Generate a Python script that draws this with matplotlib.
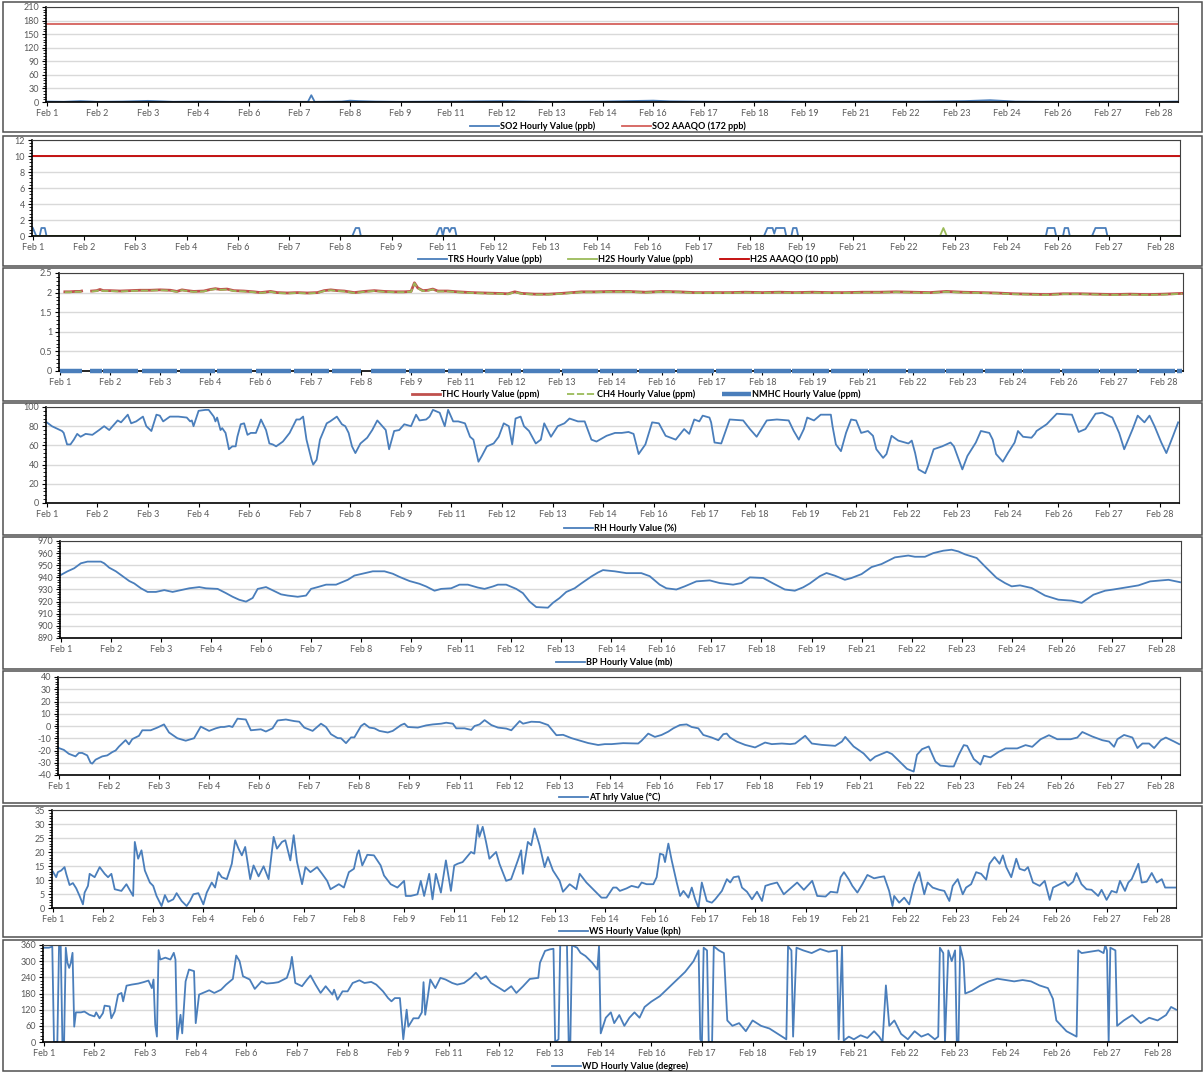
import numpy as np
import matplotlib
matplotlib.use('Agg')
import matplotlib.pyplot as plt
from matplotlib.patches import Rectangle
from matplotlib.ticker import MultipleLocator, AutoMinorLocator, FuncFormatter

plt.rcParams['font.family'] = ['Lato', 'DejaVu Sans']

W, H = 1203, 1072

tick_labels = ['Feb 1', 'Feb 2', 'Feb 3', 'Feb 4', 'Feb 6', 'Feb 7', 'Feb 8', 'Feb 9',
               'Feb 11', 'Feb 12', 'Feb 13', 'Feb 14', 'Feb 16', 'Feb 17', 'Feb 18',
               'Feb 19', 'Feb 21', 'Feb 22', 'Feb 23', 'Feb 24', 'Feb 26', 'Feb 27', 'Feb 28']
label_every = 30      # hours between category labels
n_hours = 672

# ---- data: (hour, value) readings ----
so2 = [(0, 1), (10, 0.5), (20, 2), (30, 0.5), (45, 1), (60, 2.5), (75, 0.5), (90, 1), (110, 0.5),
       (130, 1), (150, 0.5), (155, 0.5), (157, 15), (159, 0.5), (175, 1), (180, 3), (185, 2),
       (195, 1), (210, 0.5), (240, 1), (270, 2), (300, 0.5), (330, 1), (360, 3), (370, 1.5),
       (400, 0.5), (430, 1), (460, 0.5), (490, 1), (520, 1), (545, 2), (560, 4), (575, 1),
       (600, 0.5), (630, 1), (660, 0.5), (671, 1)]
so2_limit = 172

trs = [(0, 1), (1, 0.5), (2, 0), (4, 0), (5, 1), (7, 1), (8, 0), (187, 0), (189, 1), (191, 1),
       (192, 0), (236, 0), (238, 1), (239, 1), (240, 0), (241, 1), (243, 1), (244, 0.5), (245, 1),
       (247, 1), (248, 0), (428, 0), (430, 1), (433, 1), (434, 0.3), (435, 1), (440, 1), (441, 0),
       (444, 0), (445, 1), (447, 1), (448, 0), (593, 0), (594, 1), (598, 1), (599, 0), (603, 0),
       (604, 1), (606, 1), (607, 0), (620, 0), (622, 1), (628, 1), (629, 0), (671, 0)]
h2s = [(0, 0), (531, 0), (533, 1), (535, 0), (671, 0)]
h2s_limit = 10

thc = [(3, 2.02), (6, 2.02), (9, 2.03), (12, 2.03), (13, 2.04), (16, None), (19, 2.04), (22, 2.05),
       (24, 2.08), (26, 2.05), (30, 2.05), (36, 2.04), (42, 2.05), (48, 2.06), (54, 2.06), (60, 2.07),
       (66, 2.06), (70, 2.03), (73, 2.07), (76, 2.05), (80, 2.03), (86, 2.04), (90, 2.08), (93, 2.10),
       (96, 2.08), (100, 2.09), (104, 2.05), (110, 2.04), (116, 2.02), (120, 2.00), (126, 2.03),
       (130, 2.00), (136, 1.99), (142, 2.00), (148, 1.99), (154, 2.00), (158, 2.05), (162, 2.07),
       (166, 2.05), (170, 2.04), (176, 2.00), (182, 2.03), (188, 2.05), (194, 2.03), (200, 2.02),
       (206, 2.02), (210, 2.03), (212, 2.25), (214, 2.12), (217, 2.05), (220, 2.06), (223, 2.09),
       (226, 2.04), (232, 2.04), (238, 2.02), (246, 2.00), (254, 1.99), (262, 1.98), (268, 1.97),
       (272, 2.02), (276, 1.98), (284, 1.96), (292, 1.96), (300, 1.98), (306, 2.00), (312, 2.02),
       (320, 2.02), (330, 2.03), (340, 2.03), (350, 2.01), (360, 2.03), (370, 2.02), (380, 2.00),
       (390, 2.00), (400, 2.00), (410, 2.01), (420, 2.00), (430, 2.01), (440, 2.00), (450, 2.01),
       (460, 2.00), (470, 2.00), (480, 2.01), (490, 2.01), (500, 2.02), (510, 2.01), (520, 2.00),
       (530, 2.03), (540, 2.01), (550, 2.00), (560, 1.99), (570, 1.97), (580, 1.96), (590, 1.95),
       (600, 1.97), (610, 1.97), (620, 1.96), (630, 1.95), (640, 1.96), (650, 1.95), (660, 1.96),
       (671, 1.98)]
ch4 = [(3, 2.01), (6, 2.01), (9, 2.02), (12, 2.02), (13, 2.03), (16, None), (19, 2.03), (22, 2.04),
       (24, 2.07), (26, 2.04), (30, 2.04), (36, 2.03), (42, 2.04), (48, 2.05), (54, 2.05), (60, 2.06),
       (66, 2.05), (70, 2.02), (73, 2.06), (76, 2.04), (80, 2.02), (86, 2.03), (90, 2.07), (93, 2.09),
       (96, 2.07), (100, 2.08), (104, 2.04), (110, 2.03), (116, 2.01), (120, 1.99), (126, 2.02),
       (130, 1.99), (136, 1.98), (142, 1.99), (148, 1.98), (154, 1.99), (158, 2.04), (162, 2.06),
       (166, 2.04), (170, 2.03), (176, 1.99), (182, 2.02), (188, 2.04), (194, 2.02), (200, 2.01),
       (206, 2.01), (210, 2.02), (212, 2.24), (214, 2.11), (217, 2.04), (220, 2.05), (223, 2.08),
       (226, 2.03), (232, 2.03), (238, 2.01), (246, 1.99), (254, 1.98), (262, 1.97), (268, 1.96),
       (272, 2.01), (276, 1.97), (284, 1.95), (292, 1.95), (300, 1.97), (306, 1.99), (312, 2.01),
       (320, 2.01), (330, 2.02), (340, 2.02), (350, 2.00), (360, 2.02), (370, 2.01), (380, 1.99),
       (390, 1.99), (400, 1.99), (410, 2.00), (420, 1.99), (430, 2.00), (440, 1.99), (450, 2.00),
       (460, 1.99), (470, 1.99), (480, 2.00), (490, 2.00), (500, 2.01), (510, 2.00), (520, 1.99),
       (530, 2.02), (540, 2.00), (550, 1.99), (560, 1.98), (570, 1.96), (580, 1.95), (590, 1.94),
       (600, 1.96), (610, 1.96), (620, 1.95), (630, 1.94), (640, 1.95), (650, 1.94), (660, 1.95),
       (671, 1.97)]
nmhc_value = 0.01
nmhc_gaps = [(13, 18), (25, 26), (47, 49), (70, 72), (93, 94), (115, 117), (138, 140), (161, 163),
             (180, 186), (207, 209), (230, 232), (253, 254), (276, 277), (299, 300), (322, 323),
             (345, 346), (368, 369), (391, 392), (414, 415), (437, 438), (460, 461), (483, 484),
             (506, 507), (529, 530), (552, 553), (575, 576), (598, 599), (621, 622), (644, 645),
             (667, 668)]

rh = [(0, 84), (3, 80), (9, 75), (10, 73), (12, 61), (14, 61), (16, 66), (18, 72), (20, 69), (23, 72),
      (27, 71), (31, 76), (34, 80), (37, 76), (42, 86), (44, 84), (48, 92), (50, 83), (53, 85),
      (57, 90), (59, 80), (62, 75), (65, 92), (67, 91), (69, 85), (73, 90), (78, 90), (83, 89),
      (85, 85), (86, 86), (87, 80), (90, 96), (94, 97), (96, 97), (99, 90), (100, 85), (101, 89),
      (103, 76), (104, 78), (106, 73), (108, 56), (110, 59), (112, 59), (113, 69), (115, 82),
      (117, 83), (119, 71), (121, 73), (124, 73), (126, 82), (127, 87), (130, 76), (132, 62),
      (134, 61), (136, 59), (140, 64), (144, 73), (148, 87), (150, 87), (152, 90), (154, 66),
      (157, 45), (158, 40), (160, 45), (162, 66), (166, 83), (168, 85), (172, 90), (175, 82),
      (177, 80), (179, 73), (181, 59), (183, 52), (186, 62), (190, 68), (193, 76), (196, 86),
      (199, 80), (201, 76), (203, 56), (206, 75), (209, 76), (212, 82), (216, 80), (219, 92),
      (221, 86), (225, 87), (227, 90), (229, 97), (233, 94), (236, 80), (238, 97), (241, 85),
      (244, 85), (248, 83), (251, 69), (253, 66), (256, 43), (258, 49), (261, 59), (265, 62),
      (268, 69), (271, 83), (274, 80), (276, 61), (278, 88), (281, 90), (283, 80), (286, 75),
      (290, 62), (293, 66), (295, 83), (299, 69), (303, 80), (307, 83), (310, 88), (315, 85),
      (319, 85), (323, 66), (326, 64), (332, 70), (337, 73), (341, 73), (345, 74), (348, 72),
      (351, 51), (355, 61), (359, 84), (363, 83), (367, 70), (373, 66), (378, 77), (381, 72),
      (384, 87), (387, 85), (389, 91), (393, 89), (394, 84), (396, 63), (400, 62), (403, 77),
      (405, 87), (413, 86), (417, 77), (421, 69), (427, 86), (433, 87), (440, 86), (443, 75),
      (446, 66), (449, 77), (451, 89), (455, 86), (459, 92), (465, 92), (466, 80), (468, 61),
      (471, 54), (474, 73), (477, 87), (480, 86), (483, 73), (487, 75), (490, 70), (492, 56),
      (496, 47), (498, 51), (501, 70), (505, 65), (511, 62), (513, 65), (515, 52), (517, 35),
      (521, 31), (523, 40), (526, 56), (531, 59), (536, 63), (538, 59), (543, 35), (546, 49),
      (551, 63), (554, 75), (559, 73), (561, 66), (563, 51), (567, 43), (570, 52), (574, 63),
      (576, 75), (579, 69), (584, 68), (586, 72), (587, 75), (593, 82), (599, 93), (608, 92),
      (612, 74), (616, 77), (622, 93), (626, 94), (632, 89), (636, 73), (639, 56), (644, 77),
      (647, 91), (651, 84), (654, 91), (657, 80), (661, 63), (664, 52), (668, 70), (671, 84)]

bp = [(0, 942), (4, 945), (8, 947.5), (12, 951.6), (16, 953), (24, 953), (26, 951.6), (29, 948),
      (33, 945), (37, 941), (41, 937), (44, 935), (48, 931), (52, 928), (57, 928), (62, 929.5),
      (67, 928), (72, 929.5), (77, 931), (83, 932), (87, 931), (94, 930.5), (99, 927), (103, 924),
      (107, 921.5), (111, 920), (115, 923), (118, 930.5), (123, 932), (126, 930), (132, 926),
      (136, 925), (142, 924), (147, 925), (150, 930.5), (154, 932), (159, 934), (165, 934),
      (172, 938), (176, 941.5), (182, 943.4), (187, 945), (194, 945), (199, 943), (203, 940.4),
      (209, 937), (215, 934.7), (219, 932.5), (224, 929), (228, 930.5), (234, 931), (239, 934),
      (244, 934), (250, 931.6), (254, 930.5), (259, 932.5), (262, 934), (267, 934), (273, 930.5),
      (277, 927), (281, 920), (285, 915.5), (292, 915), (295, 919), (299, 923), (303, 928),
      (308, 931), (312, 935), (318, 940.7), (322, 944), (325, 946), (332, 945), (339, 943.5),
      (348, 943.5), (353, 941), (359, 934), (363, 931), (369, 930), (374, 932.6), (381, 936.7),
      (389, 937.5), (395, 935.3), (403, 934), (408, 935.3), (413, 940), (421, 939.5), (427, 935),
      (434, 930), (440, 929), (445, 931.8), (449, 935), (455, 941), (459, 943.6), (464, 941.4),
      (470, 938), (474, 939.5), (480, 942.7), (486, 948.5), (492, 951), (500, 956.5), (508, 958),
      (512, 957), (518, 957), (523, 960), (529, 962), (534, 962.8), (538, 961.4), (542, 959),
      (549, 956), (554, 949), (561, 939.5), (566, 935.3), (570, 932.6), (575, 933.4), (582, 931.2),
      (590, 925), (598, 921.6), (606, 920.8), (612, 919), (619, 925.7), (626, 929), (631, 930),
      (639, 931.8), (646, 933.4), (653, 936.7), (660, 937.5), (664, 938), (671, 936)]

at = [(0, -18), (3, -19.5), (6, -22.7), (10, -24.8), (12, -22), (14, -22), (17, -24), (19, -30),
      (20, -30.7), (22, -27.5), (26, -24.8), (29, -24), (32, -21.3), (34, -20), (36, -16.8),
      (40, -11.5), (42, -15), (44, -10.7), (48, -8), (50, -3.5), (55, -3.5), (59, -1.3), (63, 1.3),
      (66, -5.3), (71, -10), (76, -12), (81, -10), (85, -0.5), (90, -4), (94, -1.9), (97, -0.8),
      (99, -0.8), (102, 0), (104, -0.8), (107, 6), (112, 5.3), (115, -3.5), (121, -2.7), (124, -4.5),
      (128, -1.9), (131, 4.5), (136, 5.3), (141, 4), (144, 3.5), (147, -1.3), (152, -4), (157, 1.9),
      (160, -0.8), (163, -6.7), (167, -9.9), (169, -10), (172, -14), (175, -9.3), (177, -9.3),
      (181, 0), (183, 1.9), (186, -1.3), (189, -1.9), (192, -4), (197, -5.3), (200, -4), (205, 0.8),
      (207, 1.9), (209, -0.8), (215, -1.3), (220, 0.5), (224, 1.3), (229, 1.9), (232, 2.7),
      (236, 1.9), (238, -1.9), (243, -1.9), (247, -3.2), (249, 0), (252, 1.3), (255, 4.8),
      (259, 0.8), (263, -1.3), (268, -2.1), (271, -3.5), (276, 4), (278, 1.9), (283, 3.5),
      (288, 3.2), (293, 0.8), (298, -7.5), (302, -7.2), (307, -9.9), (311, -11.5), (317, -13.9),
      (323, -15.5), (327, -14.8), (331, -14.8), (338, -14), (347, -14.3), (349, -12), (353, -6.2),
      (357, -8.9), (361, -7.3), (365, -4.6), (368, -1.9), (372, 0.8), (376, 1.3), (379, -0.8),
      (383, -1.9), (386, -7.3), (391, -9.4), (395, -11.6), (398, -6.7), (400, -6.2), (402, -9.4),
      (406, -12.7), (411, -15.4), (417, -17.5), (423, -13.5), (427, -14.8), (433, -14.3),
      (438, -14.8), (441, -14.3), (447, -8), (451, -14.3), (457, -15.4), (465, -16.2), (469, -12.7),
      (471, -8.9), (476, -16.7), (482, -22.4), (486, -28.3), (489, -25), (496, -21), (499, -22.9),
      (503, -28.3), (508, -35), (512, -37.2), (514, -23.5), (517, -18.9), (521, -16.7), (525, -29),
      (528, -32.3), (533, -33), (536, -33), (539, -23.5), (542, -15.6), (544, -16.2), (548, -27),
      (552, -31.5), (554, -24.3), (558, -25.6), (563, -21), (567, -18.3), (574, -18.3),
      (579, -15.6), (583, -17), (588, -10.8), (593, -7.5), (598, -10.8), (606, -10.8), (610, -9.4),
      (613, -4.9), (619, -8.6), (625, -11.6), (629, -12.7), (632, -17), (634, -10.8), (638, -7.3),
      (643, -9.4), (646, -18), (649, -14.3), (653, -14.3), (656, -18), (660, -11.6), (663, -9.4),
      (668, -12.7), (671, -14.8)]

ws = [(0, 13), (2, 11), (3, 12.8), (5, 13.4), (7, 14.6), (8, 12.2), (10, 8.2), (12, 8.9), (14, 7),
      (16, 4.3), (18, 1.3), (19, 5.5), (21, 7.9), (22, 12.2), (25, 11), (27, 13.4), (28, 14.6),
      (31, 12.2), (33, 11), (35, 12.2), (37, 6.7), (41, 6.1), (44, 8.5), (48, 4.3), (49, 23.6),
      (51, 17.6), (53, 20.6), (55, 13.4), (58, 9.1), (60, 7.9), (62, 4.3), (65, 0.7), (67, 4.6),
      (69, 2.2), (72, 3.1), (74, 5.3), (77, 2.5), (80, 0.7), (82, 2.5), (84, 4.9), (87, 5.3),
      (90, 1.3), (92, 5.5), (95, 9.1), (97, 7.3), (99, 12.8), (101, 11), (104, 10.3), (106, 14),
      (107, 15.8), (109, 24.2), (111, 21.2), (113, 18.8), (115, 21.8), (118, 10.3), (120, 15.2),
      (123, 11.3), (126, 14.9), (129, 10.3), (132, 25.4), (134, 21.2), (137, 23.6), (139, 24.2),
      (142, 17), (144, 26), (146, 16.4), (149, 8.5), (151, 14.6), (154, 12.8), (158, 14.6),
      (161, 12.2), (164, 9.7), (166, 6.7), (171, 8.5), (174, 7.3), (177, 12.8), (180, 14),
      (182, 19.4), (183, 20.6), (185, 15.2), (188, 19), (192, 18.8), (196, 15.2), (198, 11.6),
      (202, 8.5), (206, 7.3), (210, 9.7), (211, 4.3), (214, 4.3), (218, 4.9), (220, 9.7), (222, 4.3),
      (225, 12.2), (227, 3.1), (229, 12.2), (232, 5.5), (235, 17), (238, 6.1), (240, 15.2),
      (242, 15.8), (245, 16.4), (250, 20), (252, 19.4), (254, 29.6), (255, 25.4), (257, 29),
      (259, 23.6), (261, 17.6), (265, 20), (267, 15.8), (271, 9.7), (274, 10.3), (278, 17),
      (280, 20.6), (281, 12.2), (284, 23.6), (286, 22.4), (288, 28.4), (291, 22.4), (294, 14.6),
      (296, 18.2), (299, 13.4), (303, 9.7), (305, 5.8), (309, 8.5), (313, 6.7), (315, 12.2),
      (319, 9.1), (323, 6.7), (328, 3.7), (331, 3.7), (335, 7.3), (337, 7.3), (339, 6.1), (343, 7),
      (346, 7.9), (350, 7.3), (352, 9.1), (355, 8.5), (359, 8.5), (361, 11), (363, 19.4), (365, 19),
      (366, 16.4), (368, 23), (370, 17), (373, 9.1), (375, 4.3), (377, 6.1), (380, 3.7), (382, 7.3),
      (384, 3.1), (386, 0.1), (388, 9.1), (391, 2.5), (394, 1.9), (396, 3.1), (400, 6.1),
      (403, 10.3), (405, 9.1), (407, 11), (410, 11.3), (412, 7.3), (415, 5.8), (418, 3.1),
      (421, 5.8), (424, 2.5), (426, 7.9), (429, 8.5), (433, 9.1), (437, 4.9), (441, 7), (445, 9.1),
      (449, 6.5), (454, 9.7), (457, 4.3), (462, 4.1), (465, 5.8), (469, 5.5), (471, 11), (473, 12.8),
      (476, 10.1), (478, 7.9), (481, 5.5), (484, 8.5), (487, 11.8), (491, 10.6), (494, 11),
      (497, 11.3), (500, 6.1), (502, 0.7), (503, 4.3), (506, 1.9), (509, 3.7), (512, 1.3),
      (515, 8.5), (518, 12.8), (521, 4.9), (523, 9.1), (526, 7.3), (530, 6.5), (533, 6.1),
      (536, 2.5), (538, 7.9), (541, 10.3), (544, 4.9), (546, 7.3), (549, 8.5), (552, 12.8),
      (555, 12.2), (558, 10.1), (560, 15.8), (563, 18.2), (566, 15.8), (568, 18.8), (570, 14.6),
      (573, 11), (576, 17.6), (578, 14), (581, 13.4), (583, 14.6), (586, 9.1), (590, 7.9), (593, 9.7),
      (596, 2.9), (598, 7.3), (601, 8.2), (605, 9.4), (607, 7.9), (610, 9.4), (612, 12.5), (615, 8.5),
      (618, 6.7), (621, 6.5), (625, 4.3), (627, 6.5), (630, 2.9), (633, 6.1), (636, 5.5), (638, 9.7),
      (641, 6.1), (643, 9.1), (645, 10.3), (649, 15.8), (651, 9.1), (654, 9.4), (657, 12.5),
      (660, 9.1), (663, 10.3), (665, 7.3), (671, 7.3)]

wd = [(0, 350), (3, 350), (5, 354), (6, 0), (8, 0), (9, 356), (10, 356), (11, 0), (12, 0), (13, 350),
      (14, 294), (15, 275), (16, 294), (17, 331), (18, 57), (19, 110), (22, 110), (24, 113),
      (27, 101), (30, 95), (31, 110), (33, 88), (35, 107), (36, 135), (39, 132), (40, 88), (42, 113),
      (44, 176), (46, 182), (47, 151), (49, 209), (52, 213), (56, 217), (59, 222), (62, 228),
      (64, 200), (65, 232), (66, 64), (67, 20), (68, 341), (69, 306), (72, 313), (75, 306), (77, 331),
      (78, 306), (79, 10), (81, 101), (82, 32), (84, 225), (86, 269), (89, 263), (90, 70), (92, 176),
      (95, 184), (98, 192), (101, 182), (105, 194), (108, 213), (112, 234), (114, 321), (116, 300),
      (118, 244), (122, 232), (125, 197), (129, 225), (132, 217), (136, 219), (139, 222), (144, 238),
      (146, 275), (147, 316), (149, 219), (153, 207), (156, 232), (158, 247), (161, 213), (164, 182),
      (167, 207), (171, 176), (172, 194), (174, 157), (177, 188), (180, 188), (183, 219), (187, 229),
      (190, 219), (194, 223), (197, 213), (201, 188), (204, 163), (206, 151), (208, 163), (211, 163),
      (213, 10), (215, 120), (216, 57), (219, 88), (222, 88), (224, 110), (225, 222), (226, 101),
      (229, 232), (232, 200), (235, 238), (238, 232), (242, 219), (245, 213), (249, 219), (253, 238),
      (256, 257), (259, 234), (262, 244), (265, 219), (270, 200), (273, 188), (277, 207), (280, 182),
      (284, 207), (288, 234), (293, 238), (294, 294), (297, 338), (300, 344), (302, 346), (303, 0),
      (305, 10), (306, 359), (310, 359), (311, 0), (312, 0), (313, 359), (316, 350), (318, 331),
      (321, 319), (325, 294), (328, 269), (329, 356), (330, 32), (333, 90), (336, 110), (338, 70),
      (341, 100), (344, 60), (347, 90), (350, 110), (353, 90), (356, 130), (360, 150), (365, 170),
      (370, 200), (375, 230), (380, 260), (385, 300), (388, 340), (389, 10), (390, 0), (391, 350),
      (393, 340), (394, 0), (396, 0), (397, 355), (400, 340), (403, 330), (405, 80), (408, 60),
      (412, 70), (416, 40), (420, 80), (425, 60), (430, 50), (435, 30), (440, 10), (441, 355),
      (443, 340), (444, 20), (446, 350), (450, 340), (455, 330), (460, 345), (465, 335), (470, 340),
      (471, 10), (473, 355), (474, 5), (477, 20), (480, 10), (484, 25), (488, 15), (492, 40),
      (495, 20), (497, 0), (499, 210), (501, 60), (504, 80), (508, 30), (512, 10), (516, 40),
      (520, 20), (524, 30), (528, 10), (530, 20), (531, 350), (533, 330), (534, 0), (536, 340),
      (538, 300), (540, 340), (541, 0), (542, 0), (543, 355), (545, 300), (546, 180), (550, 190),
      (555, 210), (560, 225), (565, 235), (570, 230), (575, 225), (580, 230), (585, 225), (590, 210),
      (595, 200), (598, 160), (600, 80), (603, 60), (606, 40), (609, 30), (612, 20), (613, 340),
      (615, 330), (620, 335), (625, 340), (628, 330), (629, 360), (630, 340), (631, 0), (632, 350),
      (635, 340), (636, 60), (640, 80), (645, 100), (650, 70), (655, 90), (660, 80), (665, 100),
      (668, 130), (671, 120)]

BLUE = '#4a7ebb'
GREEN = '#9bbb59'
RED_LIGHT = '#d4605c'
RED_DARK = '#c00000'
RED_THC = '#c0504d'


def xy(points):
    x = np.array([p[0] for p in points], dtype=float)
    y = np.array([np.nan if p[1] is None else p[1] for p in points], dtype=float)
    return x, y


def px_axes(left, right, top, bottom):
    return fig.add_axes([left / W, 1 - bottom / H, (right - left) / W, (bottom - top) / H])


def style(ax, ymin, ymax, ystep):
    ax.set_xlim(-0.5, n_hours - 0.5)
    ax.set_ylim(ymin, ymax)
    ax.yaxis.set_major_locator(MultipleLocator(ystep))
    ax.yaxis.set_minor_locator(AutoMinorLocator(5))
    ax.yaxis.set_major_formatter(FuncFormatter(lambda v, p: '%g' % round(v, 2)))
    ax.set_xticks(np.arange(len(tick_labels)) * label_every)
    ax.set_xticklabels(tick_labels)
    ax.grid(axis='y', color='#d9d9d9', lw=1.0)
    ax.set_axisbelow(True)
    for side in ['top', 'right']:
        ax.spines[side].set_color('#404040')
        ax.spines[side].set_linewidth(0.8)
    for side in ['left', 'bottom']:
        ax.spines[side].set_color('black')
        ax.spines[side].set_linewidth(1.2)
    ax.tick_params(axis='both', which='major', labelsize=6.5, labelcolor='#595959',
                   length=3, width=0.8, pad=2)
    ax.tick_params(axis='y', which='minor', length=2, width=0.6)
    ax.tick_params(axis='x', which='minor', length=0)


def legend(ax, cx, cy, ncol):
    leg = fig.legend(handles=ax.get_lines(), loc='center', ncol=ncol,
                     bbox_to_anchor=(cx / W, 1 - cy / H), bbox_transform=fig.transFigure,
                     frameon=False, fontsize=6.5, handlelength=3.2, handletextpad=0.1,
                     columnspacing=3.0, borderpad=0)
    for t in leg.get_texts():
        t.set_fontweight('bold')


fig = plt.figure(figsize=(W / 100, H / 100), dpi=100)

# chart-area frames
frames = [(2, 132), (136, 266), (268, 401), (403, 535), (537, 669), (671, 803), (806, 937), (940, 1071)]
for top, bottom in frames:
    fig.patches.append(Rectangle((3 / W, 1 - bottom / H), 1199 / W, (bottom - top) / H,
                                 transform=fig.transFigure, fill=False, ec='#505050', lw=1.1))

# 1. SO2
ax = px_axes(46, 1178, 7, 102)
x, y = xy(so2)
ax.plot(x, y, color=BLUE, lw=1.3, label='SO2 Hourly Value (ppb)')
ax.plot([-0.5, n_hours - 0.5], [so2_limit, so2_limit], color=RED_LIGHT, lw=1.3,
        label='SO2 AAAQO (172 ppb)')
style(ax, 0, 210, 30)
legend(ax, 608, 126, 2)

# 2. TRS / H2S
ax = px_axes(32, 1180, 140, 236)
x, y = xy(trs)
ax.plot(x, y, color=BLUE, lw=1.3, label='TRS Hourly Value (ppb)')
x, y = xy(h2s)
ax.plot(x, y, color=GREEN, lw=1.3, label='H2S Hourly Value (ppb)')
ax.plot([-0.5, n_hours - 0.5], [h2s_limit, h2s_limit], color=RED_DARK, lw=1.3,
        label='H2S AAAQO (10 ppb)')
style(ax, 0, 12, 2)
legend(ax, 628, 259, 3)

# 3. THC / CH4 / NMHC
ax = px_axes(59, 1183, 273, 371)
x, y = xy(thc)
ax.plot(x, y, color=RED_THC, lw=2.0, label='THC Hourly Value (ppm)')
x, y = xy(ch4)
ax.plot(x, y, color=GREEN, lw=1.3, dashes=(4, 1.5), label='CH4 Hourly Value (ppm)')
seg_x, seg_y = [], []
start = 0
for g0, g1 in nmhc_gaps:
    seg_x += [start, g0, np.nan]
    seg_y += [nmhc_value, nmhc_value, np.nan]
    start = g1
seg_x += [start, n_hours - 1]
seg_y += [nmhc_value, nmhc_value]
ax.plot(seg_x, seg_y, color=BLUE, lw=3.2, solid_capstyle='butt', clip_on=False, zorder=4,
        label='NMHC Hourly Value (ppm)')
style(ax, 0, 2.5, 0.5)
legend(ax, 636, 394, 3)

# 4. RH
ax = px_axes(46, 1179, 407, 503)
x, y = xy(rh)
ax.plot(x, y, color=BLUE, lw=1.3, label='RH Hourly Value (%)')
style(ax, 0, 100, 20)
legend(ax, 620, 528, 1)

# 5. BP
ax = px_axes(60, 1181, 541, 638)
x, y = xy(bp)
ax.plot(x, y, color=BLUE, lw=1.3, label='BP Hourly Value (mb)')
style(ax, 890, 970, 10)
legend(ax, 614, 662, 1)

# 6. AT
ax = px_axes(58, 1180, 677, 775)
x, y = xy(at)
ax.plot(x, y, color=BLUE, lw=1.3, label='AT hrly Value (°C)')
style(ax, -40, 40, 10)
legend(ax, 610, 797, 1)

# 7. WS
ax = px_axes(52, 1176, 810, 908)
x, y = xy(ws)
ax.plot(x, y, color=BLUE, lw=1.3, label='WS Hourly Value (kph)')
style(ax, 0, 35, 5)
legend(ax, 620, 931, 1)

# 8. WD
ax = px_axes(43, 1177, 945, 1042)
x, y = xy(wd)
ax.plot(x, y, color=BLUE, lw=1.3, label='WD Hourly Value (degree)')
style(ax, 0, 360, 60)
legend(ax, 620, 1066, 1)

fig.savefig('out.png', dpi=100)
